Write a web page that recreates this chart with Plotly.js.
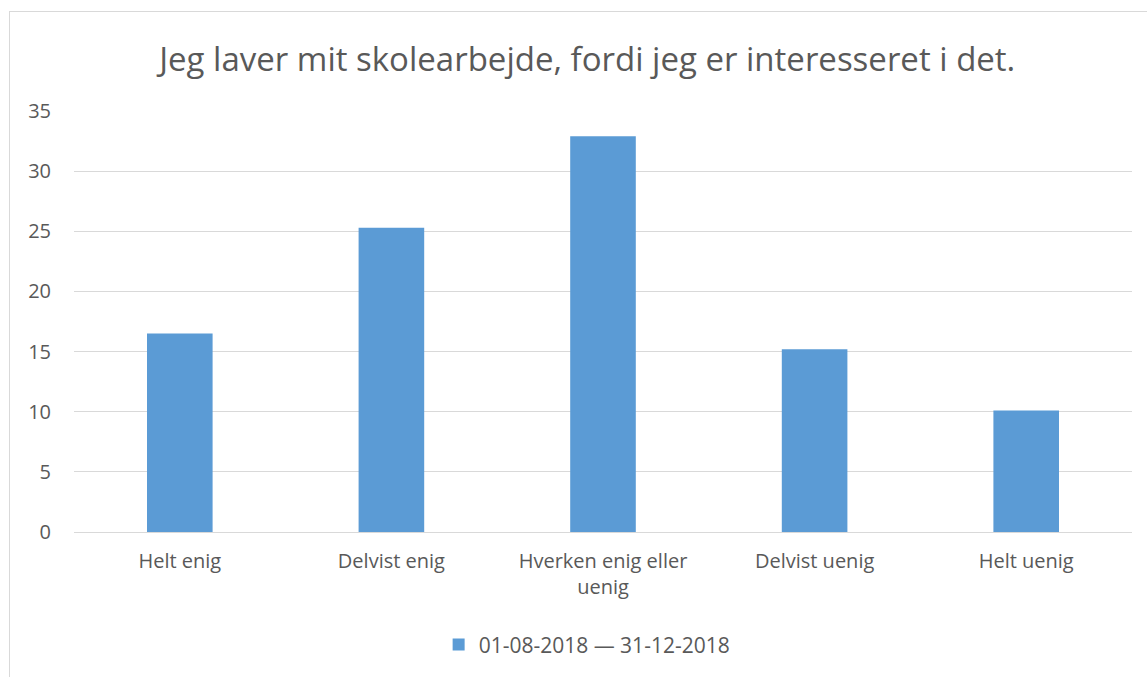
<!DOCTYPE html>
<html>
<head>
<meta charset="utf-8">
<script src="https://cdn.plot.ly/plotly-3.0.1.min.js"></script>
<style>
body { margin: 0; background: #fff; }
#frame { position: absolute; left: 9px; top: 11px; width: 1200px; height: 700px; border: 1px solid #d9d9d9; pointer-events: none; }
#chart { width: 1147px; height: 677px; }
</style>
</head>
<body>
<div id="chart"></div>
<div id="frame"></div>
<script>
var categories = ["Helt enig", "Delvist enig", "Hverken enig eller<br>uenig", "Delvist uenig", "Helt uenig"];
var values = [16.5, 25.3, 32.9, 15.2, 10.1];
var seriesName = "01-08-2018 — 31-12-2018";

var trace = [{
    x: categories,
    y: values,
    name: seriesName,
    type: "bar",
    marker: {color: "#5b9bd5"},
    showlegend: true
}];

var layout = {
    title: {text: "Jeg laver mit skolearbejde, fordi jeg er interesseret i det.",
            font: {family: "Open Sans, sans-serif", size: 33, color: "#595959"},
            x: 0.512, xanchor: "center", y: 0.912, yanchor: "middle"},
    font: {family: "Open Sans, sans-serif", color: "#595959"},
    margin: {l: 74, r: 15, t: 111, b: 145},
    paper_bgcolor: "#ffffff",
    plot_bgcolor: "#ffffff",
    bargap: 0.69,
    xaxis: {tickfont: {size: 20}, showgrid: false, ticks: "", ticklabelstandoff: 15},
    yaxis: {range: [0, 35], dtick: 5, tickfont: {size: 20}, gridcolor: "#d9d9d9",
            zeroline: true, zerolinecolor: "#d9d9d9", zerolinewidth: 1, ticklabelstandoff: 22},
    showlegend: true,
    legend: {orientation: "h", x: 0.485, xanchor: "center", y: -0.268, yanchor: "middle",
             itemwidth: 30, font: {size: 21, color: "#595959"}}
};

Plotly.newPlot("chart", trace, layout, {displayModeBar: false});
</script>
</body>
</html>
